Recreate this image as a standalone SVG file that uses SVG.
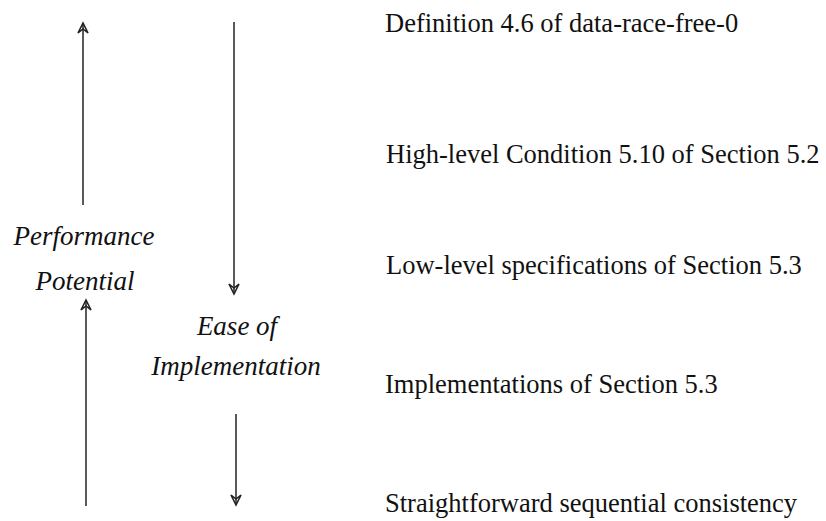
<svg xmlns="http://www.w3.org/2000/svg" width="826" height="521" viewBox="0 0 826 521">
  <style>
    text { font-family: "Liberation Serif", "Times New Roman", Times, "DejaVu Serif", serif; fill: #111; }
    .level { font-size: 26.5px; }
    .axis { font-size: 27px; font-style: italic; text-anchor: middle; }
    .arrow { stroke: #222; stroke-width: 1.5; fill: none; marker-end: url(#head); }
  </style>
  <defs>
    <marker id="head" markerUnits="userSpaceOnUse" viewBox="-12 -7 14 14" markerWidth="14" markerHeight="14" refX="0" refY="0" orient="auto">
      <path d="M-10,-5 L0,0 L-10,5 L-6,0 Z" fill="none" stroke="#222" stroke-width="1.6"/>
    </marker>
  </defs>
  <rect width="826" height="521" fill="#fff"/>

  <!-- vertical arrows -->
  <g id="connectors">
    <line class="arrow" x1="83" y1="205" x2="83" y2="23"/>
    <line class="arrow" x1="86" y1="506" x2="86" y2="300"/>
    <line class="arrow" x1="234" y1="22" x2="234" y2="294"/>
    <line class="arrow" x1="236" y1="414" x2="236" y2="505"/>
  </g>

  <!-- axis labels -->
  <g id="performance-potential">
    <text class="axis" x="84" y="245" font-family="Liberation Serif, serif">Performance</text>
    <text class="axis" x="85" y="290" font-family="Liberation Serif, serif">Potential</text>
  </g>
  <g id="ease-of-implementation">
    <text class="axis" x="237" y="335" font-family="Liberation Serif, serif">Ease of</text>
    <text class="axis" x="236" y="375" font-family="Liberation Serif, serif">Implementation</text>
  </g>

  <!-- levels, from most to least aggressive -->
  <g id="level-definition">
    <text class="level" x="385" y="32" font-family="Liberation Serif, serif">Definition 4.6 of data-race-free-0</text>
  </g>
  <g id="level-high">
    <text class="level" x="386" y="163" font-family="Liberation Serif, serif">High-level Condition 5.10 of Section 5.2</text>
  </g>
  <g id="level-low">
    <text class="level" x="386" y="274" font-family="Liberation Serif, serif">Low-level specifications of Section 5.3</text>
  </g>
  <g id="level-impl">
    <text class="level" x="385" y="393" font-family="Liberation Serif, serif">Implementations of Section 5.3</text>
  </g>
  <g id="level-sc">
    <text class="level" x="385" y="512" font-family="Liberation Serif, serif">Straightforward sequential consistency</text>
  </g>
</svg>
